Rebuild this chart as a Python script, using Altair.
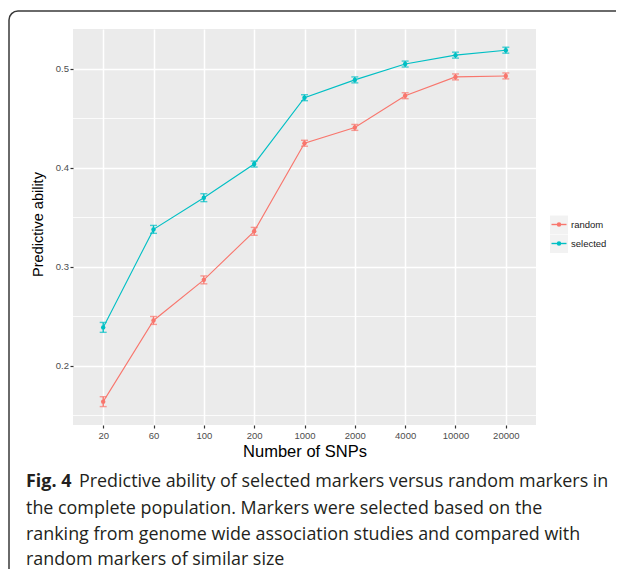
import altair as alt
import pandas as pd

# ---- data ----
snps = ["20", "60", "100", "200", "1000", "2000", "4000", "10000", "20000"]
groups = ["random", "selected"]
random_mean = [0.164, 0.246, 0.287, 0.336, 0.425, 0.441, 0.473, 0.492, 0.493]
random_se = [0.005, 0.004, 0.004, 0.004, 0.003, 0.003, 0.003, 0.003, 0.003]
selected_mean = [0.239, 0.338, 0.370, 0.404, 0.471, 0.489, 0.505, 0.514, 0.519]
selected_se = [0.005, 0.004, 0.004, 0.003, 0.003, 0.003, 0.003, 0.003, 0.003]
y_major = [0.2, 0.3, 0.4, 0.5]
y_minor = [0.15, 0.25, 0.35, 0.45]
colors = ["#F8766D", "#00BFC4"]
caption_bold = "Fig. 4"
caption_lines = [
    "Predictive ability of selected markers versus random markers in",
    "the complete population. Markers were selected based on the",
    "ranking from genome wide association studies and compared with",
    "random markers of similar size",
]

rows = []
for g, means, ses in [("random", random_mean, random_se), ("selected", selected_mean, selected_se)]:
    for s, m, e in zip(snps, means, ses):
        rows.append({"snps": s, "group": g, "mean": m, "lo": m - e, "hi": m + e})
df = pd.DataFrame(rows)
df_minor = pd.DataFrame({"mean": y_minor})

W, H = 463, 396
PAD_L, PAD_T = 65, 21
TOTAL_W, TOTAL_H = 608, 561

x_enc = alt.X(
    "snps:O", sort=snps,
    scale=alt.Scale(type="point", padding=0.6),
    axis=alt.Axis(title="Number of SNPs", labelAngle=0, labelPadding=2, grid=True,
                  titleX=W / 2, titleY=31, titleBaseline="alphabetic", titleAnchor="middle",
                  titleFontSize=16.5),
)
y_axis = alt.Axis(title="Predictive ability", values=y_major, format=".1f", labelPadding=1.5,
                  titleX=-35, titleY=H / 2 - 3, titleBaseline="middle", titleAngle=-90,
                  titleFontSize=14.5)
y_scale = alt.Scale(domain=[0.1404, 0.5404], nice=False, zero=False)
color_scale = alt.Scale(domain=groups, range=colors)

base = alt.Chart(df)

frame = alt.Chart(pd.DataFrame({"a": [0]})).mark_rect(
    fillOpacity=0, stroke="#3a3a3a", strokeWidth=1.5, cornerRadius=9
).encode(x=alt.value(-64), x2=alt.value(700), y=alt.value(-18), y2=alt.value(700))

minor = alt.Chart(df_minor).mark_rule(color="white", strokeWidth=0.8).encode(
    y=alt.Y("mean:Q", scale=y_scale, axis=y_axis)
)

color_enc = alt.Color("group:N", scale=color_scale, legend=None)

lines = base.mark_line(strokeWidth=1.1).encode(
    x=x_enc, y=alt.Y("mean:Q", scale=y_scale, axis=y_axis), color=color_enc,
)
err = base.mark_rule(strokeWidth=1.4).encode(
    x=x_enc, y=alt.Y("lo:Q", scale=y_scale, axis=y_axis), y2="hi:Q", color=color_enc,
)
cap_lo = base.mark_tick(size=7, thickness=1.4).encode(
    x=x_enc, y=alt.Y("lo:Q", scale=y_scale, axis=y_axis), color=color_enc,
)
cap_hi = base.mark_tick(size=7, thickness=1.4).encode(
    x=x_enc, y=alt.Y("hi:Q", scale=y_scale, axis=y_axis), color=color_enc,
)
points = base.mark_point(filled=True, size=20, opacity=1).encode(
    x=x_enc, y=alt.Y("mean:Q", scale=y_scale, axis=y_axis), color=color_enc,
)

# ---- legend (ggplot style keys) ----
leg_layers = []
key_x0, key_x1 = 477, 495
for i, (g, c) in enumerate(zip(groups, colors)):
    yc = 195.5 + 19 * i
    ldf = pd.DataFrame({"group": [g]})
    leg_layers.append(alt.Chart(ldf).mark_rect(fill="#F2F2F2").encode(
        x=alt.value(key_x0), x2=alt.value(key_x1), y=alt.value(yc - 9), y2=alt.value(yc + 9.5)))
    leg_layers.append(alt.Chart(ldf).mark_rule(color=c, strokeWidth=1.4).encode(
        x=alt.value(key_x0 + 1.5), x2=alt.value(key_x1 - 1.5), y=alt.value(yc)))
    leg_layers.append(alt.Chart(ldf).mark_point(filled=True, size=20, opacity=1, color=c).encode(
        x=alt.value((key_x0 + key_x1) / 2), y=alt.value(yc)))
    leg_layers.append(alt.Chart(ldf).mark_text(
        align="left", baseline="middle", font="Liberation Sans", fontSize=9.5, color="#1a1a1a"
    ).encode(text="group:N", x=alt.value(498), y=alt.value(yc)))

cap_layers = []
FS = 17.9
cx0 = 26 - 73
cys = [486.5 - 29, 513.5 - 29, 539.5 - 29, 565 - 29]
cap_layers.append(
    alt.Chart(pd.DataFrame({"t": [caption_bold]})).mark_text(
        align="left", baseline="alphabetic", font="Open Sans", fontSize=FS,
        fontWeight="bold", color="#231f20"
    ).encode(text="t:N", x=alt.value(cx0), y=alt.value(cys[0]))
)
for i, line in enumerate(caption_lines):
    xx = (79 - 73) if i == 0 else cx0
    cap_layers.append(
        alt.Chart(pd.DataFrame({"t": [line]})).mark_text(
            align="left", baseline="alphabetic", font="Open Sans", fontSize=FS,
            color="#231f20"
        ).encode(text="t:N", x=alt.value(xx), y=alt.value(cys[i]))
    )

chart = alt.layer(frame, minor, lines, err, cap_lo, cap_hi, points, *leg_layers, *cap_layers).properties(
    width=W, height=H,
    autosize=alt.AutoSizeParams(type="none"),
    padding={"left": PAD_L, "top": PAD_T, "right": TOTAL_W - PAD_L - W, "bottom": TOTAL_H - PAD_T - H},
    background="white",
).configure_view(
    fill="#EBEBEB", stroke=None
).configure_axis(
    domain=False, tickColor="#333333", tickWidth=1.2, tickSize=3,
    labelColor="#4D4D4D", labelFont="Liberation Sans", labelFontSize=9.5,
    titleFont="Liberation Sans", titleFontSize=14, titleFontWeight="normal", titleColor="black",
    gridColor="white", gridWidth=1.5,
)

chart.save("out.html", embed_options={"renderer": "svg", "actions": False})
